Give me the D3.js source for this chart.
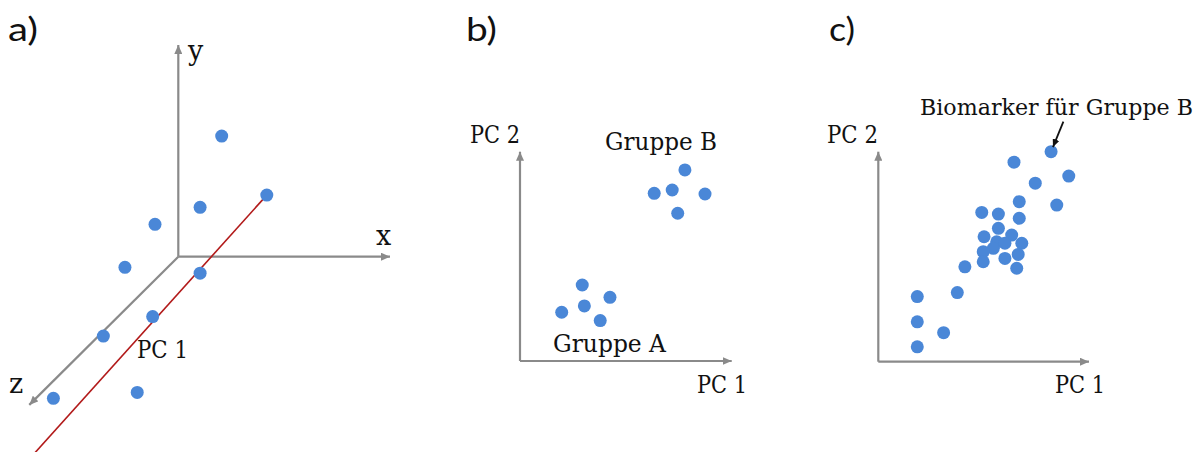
<!DOCTYPE html>
<html>
<head>
<meta charset="utf-8">
<script src="https://cdn.jsdelivr.net/npm/d3@7"></script>
<style>
  html, body { margin: 0; padding: 0; background: #ffffff; }
  svg { display: block; }
</style>
</head>
<body>
<svg id="chart" width="1201" height="452"></svg>
<script>
// ---- data -------------------------------------------------------------
// a) samples in the plane of the 3-D sketch (u to the right, v upward; z runs down the diagonal)
const samples3D = [
  [2.05, 5.70], [4.18, 2.91], [1.03, 2.33], [-1.10, 1.53], [-2.52, -0.50],
  [1.03, -0.78], [-1.21, -2.83], [-3.54, -3.75], [-1.94, -6.41], [-5.90, -6.69]
];
// a) first principal component, drawn through the cloud
const pc1Direction = [[4.18, 2.91], [-6.77, -9.26]];
const axisNames3D = ["x", "y", "z"];
// end points of the three axes (x, y, z) in the same plane
const axisEnds3D = [[10, 0], [0, 10], [-7.04, -7.0]];

// b) scores of the two groups on PC 1 / PC 2
const groupB = [[7.79, 9.13], [6.34, 8.01], [7.19, 8.17], [8.74, 7.98], [7.45, 7.06]];
const groupA = [[2.94, 3.63], [4.25, 3.04], [1.97, 2.33], [3.04, 2.63], [3.79, 1.93]];
const groupNames = ["Gruppe A", "Gruppe B"];

// c) scores along a single gradient; the first one is the marker for group B
const scoresC = [
  [8.20, 10.00], [6.44, 9.50], [9.04, 8.84], [7.45, 8.50], [6.69, 7.62],
  [8.47, 7.46], [4.91, 7.11], [5.70, 7.03], [6.69, 6.83], [5.70, 6.35],
  [5.02, 5.95], [6.33, 6.03], [6.81, 5.64], [5.62, 5.71], [6.01, 5.64],
  [5.46, 5.40], [4.98, 5.24], [6.01, 4.92], [6.64, 5.11], [4.98, 4.76],
  [6.57, 4.45], [4.11, 4.52], [3.75, 3.29], [1.85, 3.10], [1.85, 1.90],
  [3.10, 1.38], [1.85, 0.71]
];
const biomarkerIndex = 0;
const biomarkerText = "Biomarker für Gruppe B";
const pcNames = ["PC 1", "PC 2"];
const panelLetters = ["a)", "b)", "c)"];

// ---- styling ----------------------------------------------------------
const DOT = "#4a87d7";
const AXIS = "#8a8a8a";
const RED = "#b21a1a";
const R = 6.5;
const SERIF = "'DejaVu Serif', serif";
const SANS = "Lato, 'Open Sans', sans-serif";

const svg = d3.select("#chart");
svg.append("rect").attr("width", 1201).attr("height", 452).attr("fill", "#fff");

const defs = svg.append("defs");
function arrowMarker(id, color, len, wid) {
  defs.append("marker")
    .attr("id", id)
    .attr("viewBox", `0 ${-wid / 2} ${len} ${wid}`)
    .attr("refX", len).attr("refY", 0)
    .attr("markerWidth", len).attr("markerHeight", wid)
    .attr("markerUnits", "userSpaceOnUse")
    .attr("orient", "auto")
    .append("path")
    .attr("d", `M0,${-wid / 2}L${len},0L0,${wid / 2}Z`)
    .attr("fill", color);
}
arrowMarker("axisHead", AXIS, 9, 8);
arrowMarker("blackHead", "#111", 8, 7);

function axisLine(g, x, y, from, to) {
  g.append("line")
    .attr("x1", x(from[0])).attr("y1", y(from[1]))
    .attr("x2", x(to[0])).attr("y2", y(to[1]))
    .attr("stroke", AXIS).attr("stroke-width", 2.2)
    .attr("marker-end", "url(#axisHead)");
}
function label(g, text, x, y, size, width, family) {
  const t = g.append("text")
    .attr("x", x).attr("y", y)
    .attr("font-family", family || SERIF)
    .attr("font-size", size)
    .attr("fill", "#111")
    .text(text);
  if (width) t.attr("textLength", width).attr("lengthAdjust", "spacingAndGlyphs");
  return t;
}
function dots(g, data, x, y) {
  g.selectAll(null).data(data).enter().append("circle")
    .attr("cx", d => x(d[0])).attr("cy", d => y(d[1]))
    .attr("r", R).attr("fill", DOT);
}

// ---- a) three original variables with PC 1 ---------------------------
{
  const g = svg.append("g");
  const x = d3.scaleLinear().domain([0, 10]).range([178.3, 390]);
  const y = d3.scaleLinear().domain([0, 10]).range([256.7, 45]);

  axisEnds3D.forEach(end => axisLine(g, x, y, [0, 0], end));

  g.append("path")
    .attr("d", d3.line().x(d => x(d[0])).y(d => y(d[1]))(pc1Direction))
    .attr("stroke", RED).attr("stroke-width", 1.6).attr("fill", "none");

  dots(g, samples3D, x, y);

  label(g, axisNames3D[0], 376, 245, 27);
  label(g, axisNames3D[1], 188, 60, 27);
  label(g, axisNames3D[2], 9, 393, 27);
  label(g, pcNames[0], 137, 358, 24, 51);
  label(g, panelLetters[0], 8, 41, 33, 30, SANS);
}

// ---- b) two separated groups ------------------------------------------
{
  const g = svg.append("g");
  const x = d3.scaleLinear().domain([0, 10]).range([520, 731.7]);
  const y = d3.scaleLinear().domain([0, 10]).range([361, 151.7]);

  axisLine(g, x, y, [0, 0], [10, 0]);
  axisLine(g, x, y, [0, 0], [0, 10]);

  dots(g, groupB, x, y);
  dots(g, groupA, x, y);

  label(g, groupNames[1], 605, 150, 24, 112);
  label(g, groupNames[0], 553, 352, 24, 113);
  label(g, pcNames[1], 470, 143, 24, 50);
  label(g, pcNames[0], 697, 393, 24, 50);
  label(g, panelLetters[1], 466, 41, 33, 31, SANS);
}

// ---- c) continuous gradient with a marker sample ----------------------
{
  const g = svg.append("g");
  const x = d3.scaleLinear().domain([0, 10]).range([878.3, 1089]);
  const y = d3.scaleLinear().domain([0, 10]).range([361.7, 151.7]);

  axisLine(g, x, y, [0, 0], [10, 0]);
  axisLine(g, x, y, [0, 0], [0, 10]);

  dots(g, scoresC, x, y);

  // pointer from the caption to the marker sample
  const m = scoresC[biomarkerIndex];
  const cx = x(m[0]), cy = y(m[1]);
  const sx = cx + 12.3, sy = cy - 30;
  const len = Math.hypot(sx - cx, sy - cy);
  const tx = cx + (sx - cx) / len * (R - 1.5), ty = cy + (sy - cy) / len * (R - 1.5);
  g.append("line")
    .attr("x1", sx).attr("y1", sy).attr("x2", tx).attr("y2", ty)
    .attr("stroke", "#111").attr("stroke-width", 1.8)
    .attr("marker-end", "url(#blackHead)");

  label(g, biomarkerText, 920, 115, 22, 273);
  label(g, pcNames[1], 827, 143, 24, 51);
  label(g, pcNames[0], 1055, 393, 24, 50);
  label(g, panelLetters[2], 829, 41, 33, 26, SANS);
}
</script>
</body>
</html>
